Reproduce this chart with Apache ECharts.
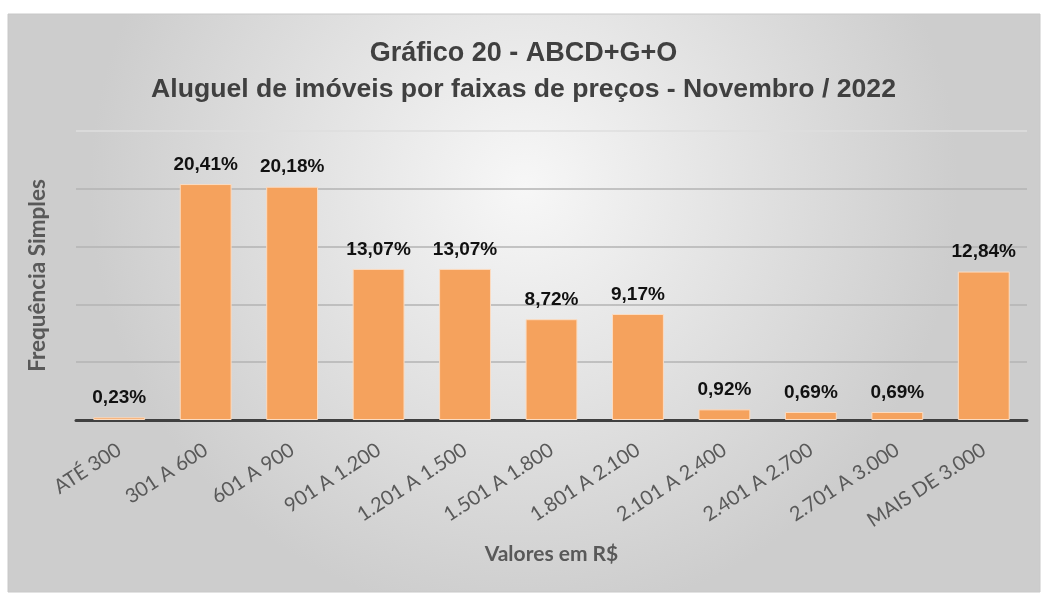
<!DOCTYPE html>
<html>
<head>
<meta charset="utf-8">
<script src="https://cdn.jsdelivr.net/npm/echarts@6/dist/echarts.min.js"></script>
<style>
    html, body { margin: 0; padding: 0; background: #ffffff; }
    #chart { width: 1047px; height: 597px; }
</style>
</head>
<body>
<div id="chart"></div>
<script>
// faixas de preço e frequências (%)
const faixas = ['ATÉ 300', '301 A 600', '601 A 900', '901 A 1.200', '1.201 A 1.500', '1.501 A 1.800',
    '1.801 A 2.100', '2.101 A 2.400', '2.401 A 2.700', '2.701 A 3.000', 'MAIS DE 3.000'];
const frequencias = [0.23, 20.41, 20.18, 13.07, 13.07, 8.72, 9.17, 0.92, 0.69, 0.69, 12.84];

const titulo = 'Gráfico 20 - ABCD+G+O';
const subtitulo = 'Aluguel de imóveis por faixas de preços - Novembro / 2022';

const chart = echarts.init(document.getElementById('chart'));

const option = {
    animation: false,
    graphic: [{
        type: 'rect',
        z: -10,
        shape: { x: 8, y: 14, width: 1032, height: 578 },
        style: {
            fill: new echarts.graphic.RadialGradient(0.5, 0.3, 0.75, [
                { offset: 0, color: '#f7f7f7' },
                { offset: 1, color: '#cdcdcd' }
            ]),
            stroke: '#c8c8c8',
            lineWidth: 1
        }
    }],
    title: [
        {
            text: titulo, left: 'center', top: 35,
            textStyle: { fontFamily: 'Liberation Sans', fontSize: 27, fontWeight: 'bold', color: '#404040' }
        },
        {
            text: subtitulo, left: 'center', top: 71,
            textStyle: { fontFamily: 'Liberation Sans', fontSize: 26.6, fontWeight: 'bold', color: '#404040' }
        }
    ],
    grid: { left: 76, right: 20, top: 131, bottom: 177 },
    xAxis: {
        type: 'category',
        data: faixas,
        name: 'Valores em R$',
        nameLocation: 'middle',
        nameGap: 124,
        nameTextStyle: { fontFamily: 'Lato', fontSize: 21, fontWeight: 'bold', color: '#595959' },
        axisLine: { lineStyle: { color: '#404040', width: 3 } },
        axisTick: { show: false },
        axisLabel: {
            rotate: 33, margin: 28, interval: 0,
            fontFamily: 'Lato', fontSize: 20, color: '#595959'
        }
    },
    yAxis: {
        type: 'value',
        min: 0, max: 25, interval: 5,
        name: 'Frequência Simples',
        nameLocation: 'middle',
        nameGap: 27,
        nameTextStyle: { fontFamily: 'Lato', fontSize: 22.5, fontWeight: 'bold', color: '#595959' },
        axisLabel: { show: false },
        axisLine: { show: false },
        axisTick: { show: false },
        splitLine: { lineStyle: { color: ['#b3b3b3', '#b3b3b3', '#b3b3b3', '#b3b3b3', '#b3b3b3', '#dedede'], width: 1.5 } }
    },
    series: [{
        type: 'bar',
        data: frequencias,
        barWidth: '60%',
        itemStyle: { color: '#f5a25d', borderColor: '#fbdcc2', borderWidth: 1 },
        label: {
            show: true,
            position: 'top',
            distance: 10,
            fontFamily: 'Liberation Sans',
            fontSize: 19,
            fontWeight: 'bold',
            color: '#111111',
            formatter: p => p.value.toFixed(2).replace('.', ',') + '%'
        }
    }]
};

chart.setOption(option);
</script>
</body>
</html>
